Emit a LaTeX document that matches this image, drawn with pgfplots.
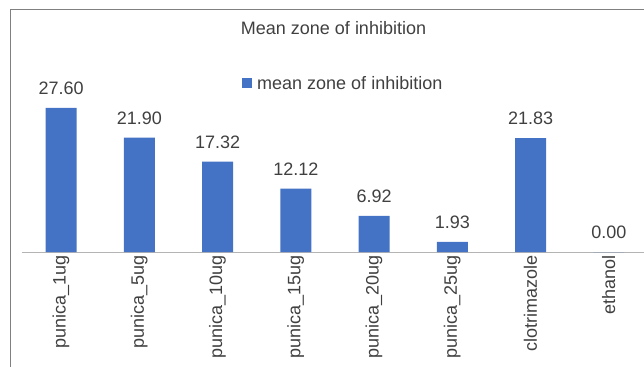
\documentclass[border=0pt]{standalone}
\usepackage{fontspec}
\setmainfont{Liberation Sans}
\usepackage{pgfplots}
\pgfplotsset{compat=1.18}
\definecolor{barblue}{HTML}{4472C4}
\definecolor{txt}{HTML}{404040}
\definecolor{framegray}{HTML}{808080}
\definecolor{axisgray}{HTML}{B4B4B4}
\newcommand{\ff}{\fontsize{18bp}{21bp}\selectfont}
\begin{document}
\begin{tikzpicture}[x=1bp,y=1bp]
\useasboundingbox (0,0) rectangle (644,366);
\draw[color=framegray, line width=1bp] (10,-5) -- (10,356) -- (650,356);
\begin{axis}[
  at={(21.9bp,114bp)}, anchor=south west,
  scale only axis, width=622.1bp, height=156.6bp,
  xmin=-0.5, xmax=7.45, ymin=0, ymax=30,
  ybar, bar width=31bp,
  axis x line*=bottom, axis y line=none,
  x axis line style={draw=axisgray, line width=1bp, -},
  xtick={0,...,7},
  xticklabels={punica\_1ug,punica\_5ug,punica\_10ug,punica\_15ug,punica\_20ug,punica\_25ug,clotrimazole,ethanol},
  major tick length=0pt,
  xticklabel style={rotate=90, anchor=east, font=\ff, text=txt, inner sep=0pt, xshift=2bp},
  xticklabel shift=5bp,
  nodes near coords,
  nodes near coords style={font=\ff, text=txt, anchor=south, inner sep=0pt, yshift=13bp},
  /pgf/number format/.cd, fixed, zerofill, precision=2, assume math mode=true, /pgfplots/.cd,
  title={Mean zone of inhibition},
  title style={at={(axis description cs:0.5009,1.389)}, anchor=base, yshift=-6pt, font=\ff, text=txt, inner sep=0pt},
  legend style={at={(axis description cs:0.3538,1.076)}, anchor=west, draw=none, fill=none, inner sep=0pt, font=\ff, text=txt, nodes={inner sep=0pt}, /tikz/every odd column/.append style={column sep=5bp}},
  legend image code/.code={\fill[barblue] (0bp,-5bp) rectangle (10bp,5bp);},
  clip=false,
]
\addplot[fill=barblue, draw=none] coordinates {
  (0,27.60) (1,21.90) (2,17.32) (3,12.12) (4,6.92) (5,1.93) (6,21.83) (7,0.00)
};
\addlegendentry{mean zone of inhibition}
\end{axis}
\end{tikzpicture}
\end{document}
